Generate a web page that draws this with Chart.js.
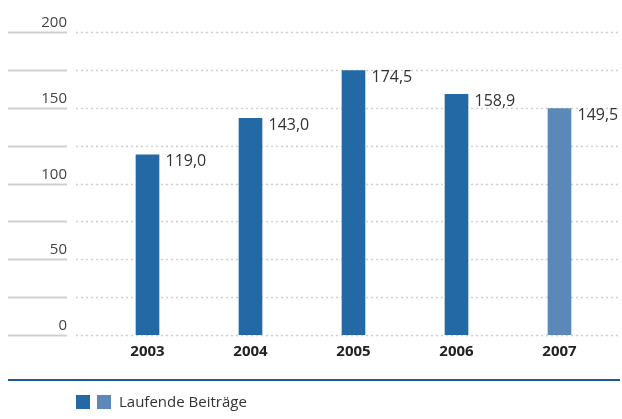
<!DOCTYPE html>
<html><head><meta charset="utf-8">
<script src="https://cdn.jsdelivr.net/npm/chart.js@4/dist/chart.umd.min.js"></script>
<style>html,body{margin:0;padding:0;background:#fff}canvas{display:block}</style>
</head><body>
<canvas id="c" width="622" height="419"></canvas>
<script>
const categories = ['2003','2004','2005','2006','2007'];
const values = [119.0, 143.0, 174.5, 158.9, 149.5];
const valueLabels = ['119,0','143,0','174,5','158,9','149,5'];
const yTickLabels = ['0','50','100','150','200'];
const yTickValues = [0, 50, 100, 150, 200];
const gridValues = [0, 25, 50, 75, 100, 125, 150, 175, 200];
const legendLabel = 'Laufende Beiträge';

const DARK = '#2369a6', LIGHT = '#5c88b9';
const FONT = '"Open Sans", "Noto Sans", sans-serif';

const decor = {
  id: 'decor',
  beforeDatasetsDraw(chart) {
    const ctx = chart.ctx, y = chart.scales.y;
    ctx.save();
    gridValues.forEach(v => {
      const py = Math.round(y.getPixelForValue(v)) + 0.5;
      ctx.strokeStyle = '#cfcfcf';
      ctx.lineWidth = 2;
      ctx.setLineDash([]);
      ctx.beginPath(); ctx.moveTo(8, py); ctx.lineTo(67, py); ctx.stroke();
      ctx.lineWidth = 1.5;
      ctx.setLineDash([2, 3]);
      ctx.beginPath(); ctx.moveTo(76, py); ctx.lineTo(620, py); ctx.stroke();
    });
    ctx.setLineDash([]);
    ctx.fillStyle = '#444';
    ctx.font = '15px ' + FONT;
    ctx.textAlign = 'right';
    ctx.textBaseline = 'alphabetic';
    yTickValues.forEach((v, i) => {
      ctx.fillText(yTickLabels[i], 67, y.getPixelForValue(v) - 5);
    });
    // bottom rule
    ctx.strokeStyle = '#1b5c96';
    ctx.lineWidth = 2;
    ctx.beginPath(); ctx.moveTo(8, 380); ctx.lineTo(620, 380); ctx.stroke();
    // legend
    ctx.fillStyle = DARK; ctx.fillRect(76, 395, 14, 14);
    ctx.fillStyle = LIGHT; ctx.fillRect(97, 395, 14, 14);
    ctx.fillStyle = '#333';
    ctx.textAlign = 'left';
    ctx.textBaseline = 'middle';
    ctx.font = '15px ' + FONT;
    ctx.fillText(legendLabel, 119, 403);
    ctx.restore();
  },
  afterDatasetsDraw(chart) {
    const ctx = chart.ctx;
    const meta = chart.getDatasetMeta(0);
    ctx.save();
    ctx.fillStyle = '#333';
    ctx.font = '16px ' + FONT;
    ctx.textAlign = 'left';
    ctx.textBaseline = 'middle';
    meta.data.forEach((bar, i) => {
      ctx.fillText(valueLabels[i], bar.x + 18, bar.y + 7);
    });
    ctx.restore();
  }
};

new Chart(document.getElementById('c'), {
  type: 'bar',
  data: {
    labels: categories,
    datasets: [{
      label: legendLabel,
      data: values,
      backgroundColor: values.map((v, i) => i === values.length - 1 ? LIGHT : DARK),
      barThickness: 23,
      borderWidth: 0
    }]
  },
  options: {
    responsive: false,
    animation: false,
    devicePixelRatio: 1,
    layout: { padding: { top: 32, left: 96, right: 11, bottom: 0 } },
    plugins: { legend: { display: false }, tooltip: { enabled: false } },
    scales: {
      x: {
        grid: { display: false },
        border: { display: false },
        ticks: { color: '#222', font: { family: FONT, size: 15, weight: 'bold' }, padding: 0 },
        afterFit(scale) { scale.height = 84; }
      },
      y: { display: false, min: 0, max: 200 }
    }
  },
  plugins: [decor]
});
</script>
</body></html>
